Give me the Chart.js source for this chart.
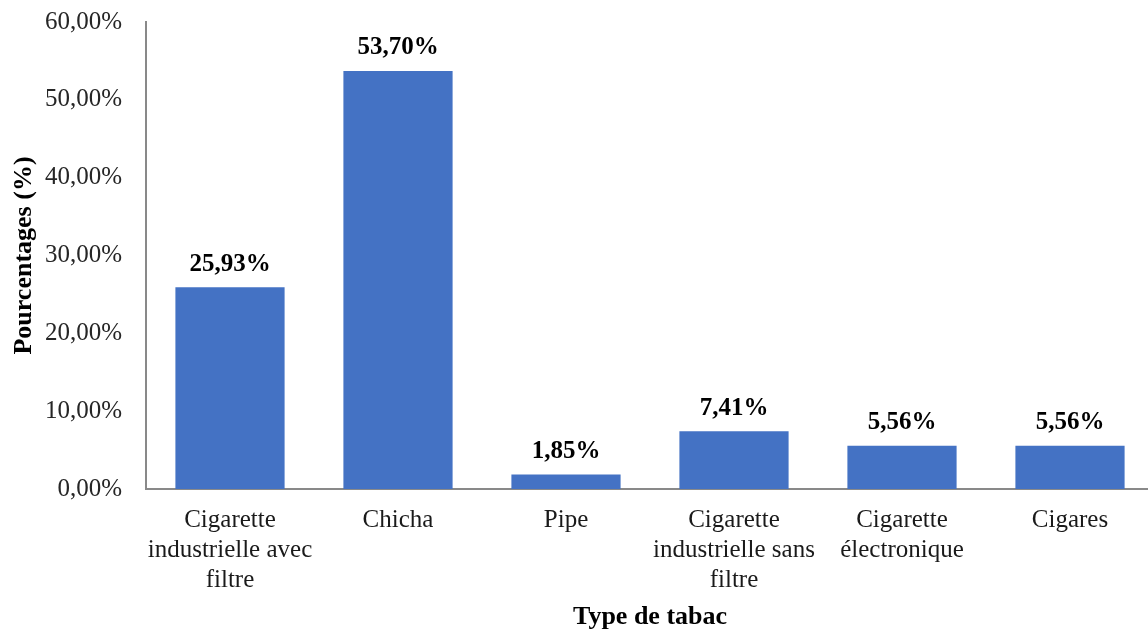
<!DOCTYPE html>
<html lang="fr">
<head>
<meta charset="utf-8">
<title>Type de tabac</title>
<script src="https://cdn.jsdelivr.net/npm/chart.js@4/dist/chart.umd.min.js"></script>
<style>
  html, body { margin: 0; padding: 0; background: #fff; overflow: hidden; }
  #wrap { width: 1156px; height: 634px; }
</style>
</head>
<body>
<div id="wrap"><canvas id="c" width="1156" height="634"></canvas></div>
<script>
// Categories (multi-line labels) and share of each tobacco type, in percent
const categories = [
  ["Cigarette", "industrielle avec", "filtre"],
  ["Chicha"],
  ["Pipe"],
  ["Cigarette", "industrielle sans", "filtre"],
  ["Cigarette", "électronique"],
  ["Cigares"]
];
const percentages = [25.93, 53.70, 1.85, 7.41, 5.56, 5.56];
const yTicks = [0, 10, 20, 30, 40, 50, 60];

const FONT = "'Liberation Serif', 'Times New Roman', serif";
const fmt = v => v.toFixed(2).replace('.', ',') + '%';

// Value labels above each bar
const barValueLabels = {
  id: 'barValueLabels',
  afterDatasetsDraw(chart) {
    const ctx = chart.ctx;
    const meta = chart.getDatasetMeta(0);
    const data = chart.data.datasets[0].data;
    ctx.save();
    ctx.font = 'bold 25px ' + FONT;
    ctx.fillStyle = '#000';
    ctx.textAlign = 'center';
    ctx.textBaseline = 'middle';
    meta.data.forEach((bar, i) => {
      ctx.fillText(fmt(data[i]), bar.x, bar.y - 23);
    });
    ctx.restore();
  }
};

new Chart(document.getElementById('c'), {
  type: 'bar',
  data: {
    labels: categories,
    datasets: [{
      data: percentages,
      backgroundColor: '#4472C4',
      borderWidth: 0,
      barPercentage: 0.65,
      categoryPercentage: 1.0
    }]
  },
  options: {
    responsive: false,
    animation: false,
    layout: { padding: { left: 0, right: 2, top: 22, bottom: 0 } },
    plugins: {
      legend: { display: false },
      tooltip: { enabled: false }
    },
    scales: {
      x: {
        grid: { display: false, drawTicks: false },
        border: { display: true, color: '#898989', width: 2 },
        ticks: {
          padding: 16,
          color: '#1a1a1a',
          maxRotation: 0,
          autoSkip: false,
          font: { family: FONT, size: 25, lineHeight: 1.2 }
        },
        title: {
          display: true,
          text: 'Type de tabac',
          color: '#000',
          font: { family: FONT, size: 26, weight: 'bold' },
          padding: { top: 0, bottom: 1 }
        },
        afterFit(scale) { scale.height = 145; }
      },
      y: {
        min: 0,
        max: 60,
        afterBuildTicks(scale) { scale.ticks = yTicks.map(v => ({ value: v })); },
        grid: { display: false, drawTicks: false },
        border: { display: true, color: '#898989', width: 2 },
        ticks: {
          padding: 24,
          color: '#262626',
          font: { family: FONT, size: 25 },
          callback: v => fmt(v)
        },
        title: {
          display: true,
          text: 'Pourcentages (%)',
          color: '#000',
          font: { family: FONT, size: 26, weight: 'bold' },
          padding: { top: 9, bottom: 0 }
        },
        afterFit(scale) {
          scale.width = 146;
          scale.paddingTop = 0;
          scale.paddingBottom = 0;
        }
      }
    }
  },
  plugins: [barValueLabels]
});
</script>
</body>
</html>
